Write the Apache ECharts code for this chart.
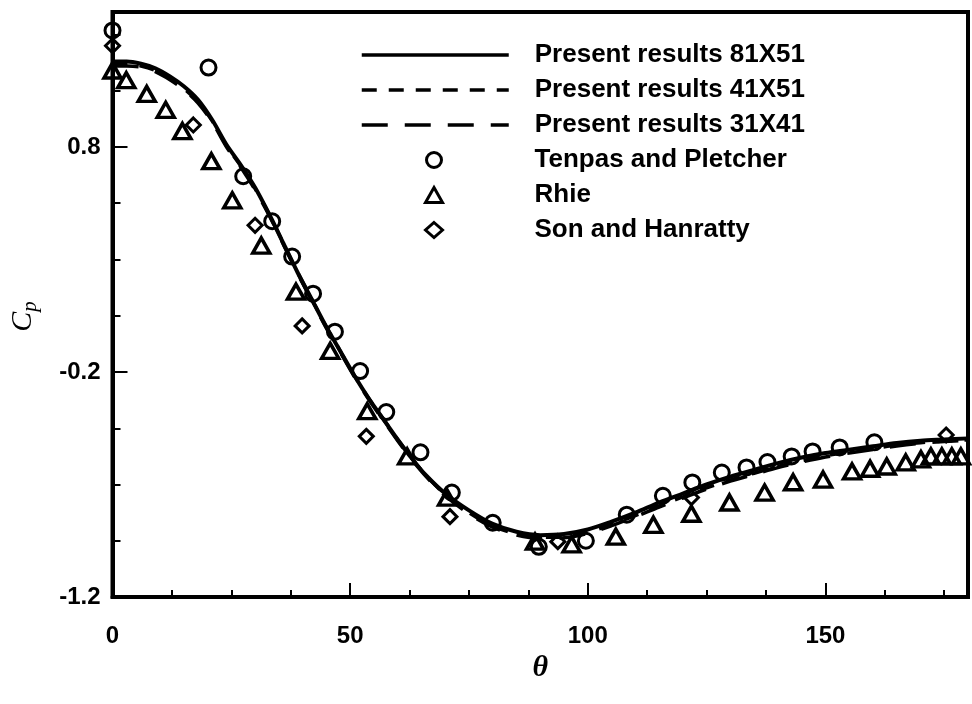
<!DOCTYPE html>
<html>
<head>
<meta charset="utf-8">
<script src="https://cdn.jsdelivr.net/npm/echarts@6/dist/echarts.min.js"></script>
<style>
html,body{margin:0;padding:0;background:#fff;}
#chart{width:972px;height:704px;}
</style>
</head>
<body>
<div id="chart"></div>
<script>
// ---- data ----
const seriesNames = ['Present results 81X51','Present results 41X51','Present results 31X41','Tenpas and Pletcher','Rhie','Son and Hanratty'];

const thetaCurve = [0,3,6,9,12,15,18,21,24,27,30,33,36,39,42,45,48,51,54,57,60,63,66,70,75,80,85,90,95,100,105,110,115,120,125,130,135,140,145,150,155,160,165,170,175,180];
const cp81x51 = [1.18,1.18,1.17,1.15,1.115,1.07,1.01,0.92,0.81,0.72,0.62,0.5,0.37,0.24,0.12,0.0,-0.11,-0.22,-0.32,-0.41,-0.5,-0.585,-0.66,-0.74,-0.815,-0.875,-0.91,-0.925,-0.92,-0.9,-0.865,-0.825,-0.78,-0.74,-0.7,-0.665,-0.635,-0.605,-0.58,-0.56,-0.545,-0.53,-0.515,-0.505,-0.5,-0.495];
const cp41x51 = [1.17,1.17,1.16,1.14,1.105,1.06,1.0,0.915,0.805,0.715,0.615,0.5,0.37,0.24,0.12,0.0,-0.11,-0.22,-0.32,-0.41,-0.5,-0.585,-0.66,-0.745,-0.825,-0.885,-0.92,-0.935,-0.932,-0.912,-0.878,-0.838,-0.795,-0.755,-0.715,-0.68,-0.65,-0.62,-0.595,-0.573,-0.556,-0.54,-0.525,-0.514,-0.507,-0.502];
const cp31x41 = [1.16,1.16,1.155,1.135,1.1,1.055,0.995,0.91,0.8,0.71,0.61,0.495,0.365,0.235,0.115,-0.005,-0.115,-0.225,-0.325,-0.415,-0.505,-0.59,-0.665,-0.75,-0.83,-0.89,-0.925,-0.94,-0.937,-0.917,-0.883,-0.843,-0.8,-0.76,-0.72,-0.685,-0.655,-0.625,-0.6,-0.578,-0.56,-0.544,-0.529,-0.517,-0.509,-0.504];

const thetaTenpas = [0,20.2,27.5,33.6,37.8,42.2,46.8,52.1,57.6,64.8,71.4,80,89.7,99.6,108.2,115.8,122,128.2,133.4,137.8,142.9,147.3,153,160.3];
const cpTenpas = [1.318,1.153,0.67,0.47,0.313,0.148,-0.021,-0.196,-0.378,-0.557,-0.736,-0.87,-0.977,-0.95,-0.834,-0.75,-0.691,-0.647,-0.624,-0.6,-0.575,-0.553,-0.535,-0.5125];

const thetaRhie = [0,2.9,7.2,11.2,14.7,20.8,25.2,31.3,38.6,45.8,53.6,62,70.4,88.9,96.6,105.9,113.8,121.8,129.8,137.2,143.2,149.5,155.6,159.4,162.9,166.9,170.1,172.2,174.5,176.6,178.5];
const cpRhie = [1.14,1.097,1.036,0.965,0.871,0.737,0.563,0.362,0.157,-0.106,-0.374,-0.575,-0.758,-0.954,-0.966,-0.932,-0.879,-0.83,-0.78,-0.736,-0.69,-0.678,-0.642,-0.63,-0.62,-0.602,-0.588,-0.575,-0.575,-0.575,-0.575];

const thetaSon = [0,17,30,39.9,53.4,71,93.7,121.8,175.4];
const cpSon = [1.25,0.898,0.452,0.005,-0.486,-0.843,-0.954,-0.758,-0.48];

const xMajorLabels = [0,50,100,150];
const yMajorLabels = [-1.2,-0.2,0.8];

// ---- build chart ----
function pairs(xs, ys){ return xs.map((x,i)=>[x, ys[i]]); }
const labelFont = {fontFamily:'Liberation Sans, Arial, sans-serif', fontWeight:'bold', fontSize:24, color:'#000'};
const legendText = {fontFamily:'Liberation Sans, Arial, sans-serif', fontWeight:'bold', fontSize:26, color:'#000'};

const chart = echarts.init(document.getElementById('chart'), null, {renderer:'canvas'});
const axisLineStyle = {color:'#000', width:4};
const noMarker = {color:'transparent', borderWidth:0, opacity:0};

const option = {
  animation:false,
  backgroundColor:'#fff',
  grid:{left:112, right:4, top:12, bottom:107, show:true, borderColor:'#000', borderWidth:4, backgroundColor:'transparent'},
  legend:[{
    data:[
      {name:seriesNames[0], itemStyle:noMarker},
      {name:seriesNames[1], itemStyle:noMarker},
      {name:seriesNames[2], itemStyle:noMarker}
    ],
    orient:'vertical', left:360, top:42, padding:0,
    itemWidth:147, itemHeight:15, itemGap:9,
    lineStyle:{width:3.5},
    textStyle:Object.assign({padding:[0,0,0,21]}, legendText)
  },{
    data:[seriesNames[3], seriesNames[4], seriesNames[5]],
    orient:'vertical', left:424, top:147, padding:0,
    itemWidth:17, itemHeight:15, itemGap:9,
    itemStyle:{borderWidth:3},
    textStyle:Object.assign({padding:[0,0,0,87]}, legendText)
  }],
  xAxis:[{
    type:'value', min:0, max:180, interval:12.5,
    axisLine:{show:true, onZero:false, lineStyle:axisLineStyle},
    axisTick:{show:true, inside:true, length:7, lineStyle:{color:'#000', width:2}},
    splitLine:{show:false},
    axisLabel:Object.assign({margin:27, formatter:function(v){ return xMajorLabels.indexOf(Math.round(v*1000)/1000) >= 0 ? String(v) : ''; }}, labelFont),
    name:'θ', nameLocation:'middle', nameGap:49,
    nameTextStyle:{fontFamily:'Liberation Serif, Times New Roman, serif', fontStyle:'italic', fontWeight:'bold', fontSize:30, color:'#000'}
  },{
    type:'value', min:0, max:180, interval:50, position:'bottom',
    axisLine:{show:false, onZero:false},
    axisTick:{show:true, inside:true, length:14, lineStyle:{color:'#000', width:2}},
    axisLabel:{show:false}, splitLine:{show:false}
  }],
  yAxis:[{
    type:'value', min:-1.2, max:1.4, interval:0.25,
    axisLine:{show:true, onZero:false, lineStyle:axisLineStyle},
    axisTick:{show:true, inside:true, length:8, lineStyle:{color:'#000', width:2}},
    splitLine:{show:false},
    axisLabel:Object.assign({margin:12, formatter:function(v){
      const r = Math.round(v*1000)/1000;
      return yMajorLabels.indexOf(r) >= 0 ? r.toFixed(1) : '';
    }}, labelFont),
    name:'{c|C}{p|p}', nameLocation:'middle', nameGap:72, nameRotate:90,
    nameTextStyle:{padding:[0,24,0,0], rich:{
      c:{fontFamily:'Liberation Serif, Times New Roman, serif', fontStyle:'italic', fontSize:30, color:'#000'},
      p:{fontFamily:'Liberation Serif, Times New Roman, serif', fontStyle:'italic', fontSize:21, color:'#000', padding:[14,0,0,0]}
    }}
  },{
    type:'value', min:-1.2, max:1.4, interval:1, position:'left',
    axisLine:{show:false, onZero:false},
    axisTick:{show:true, inside:true, length:15, lineStyle:{color:'#000', width:2}},
    axisLabel:{show:false}, splitLine:{show:false}
  }],
  series:[
    {name:seriesNames[0], type:'line', smooth:0.3, symbol:'none', data:pairs(thetaCurve, cp81x51),
     lineStyle:{color:'#000', width:4, type:'solid'}, itemStyle:{color:'#000'}, z:3},
    {name:seriesNames[1], type:'line', smooth:0.3, symbol:'none', data:pairs(thetaCurve, cp41x51),
     lineStyle:{color:'#000', width:3.5, type:[15,12]}, itemStyle:{color:'#000'}, z:3},
    {name:seriesNames[2], type:'line', smooth:0.3, symbol:'none', data:pairs(thetaCurve, cp31x41),
     lineStyle:{color:'#000', width:3.5, type:[26,17]}, itemStyle:{color:'#000'}, z:3},
    {name:seriesNames[3], type:'scatter', symbol:'circle', symbolSize:15, data:pairs(thetaTenpas, cpTenpas),
     itemStyle:{color:'transparent', borderColor:'#000', borderWidth:3, opacity:1}, z:4},
    {name:seriesNames[4], type:'scatter', symbol:'triangle', symbolSize:[17,15], data:pairs(thetaRhie, cpRhie),
     itemStyle:{color:'transparent', borderColor:'#000', borderWidth:3.5, opacity:1}, z:4},
    {name:seriesNames[5], type:'scatter', symbol:'diamond', symbolSize:14, data:pairs(thetaSon, cpSon),
     itemStyle:{color:'transparent', borderColor:'#000', borderWidth:3, opacity:1}, z:4}
  ]
};
chart.setOption(option);
</script>
</body>
</html>
